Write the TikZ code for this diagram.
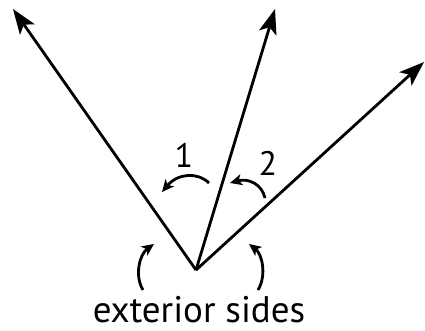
\documentclass[tikz,border=0pt]{standalone}
\usepackage{fontspec}
\setmainfont{PT Sans}
\usetikzlibrary{arrows.meta}
\begin{document}
\begin{tikzpicture}[x=1pt,y=1pt,
  ray/.style={line width=2.8pt,-{Stealth[length=25pt,width=18pt,inset=6pt]}},
  turn/.style={line width=2.8pt,-{Stealth[length=12pt,width=11pt,inset=3pt]}},
  lbl/.style={font=\fontsize{34}{34}\selectfont,inner sep=0pt},
  captext/.style={font=\fontsize{37}{37}\selectfont,inner sep=0pt}]
\useasboundingbox (0,0) rectangle (425,330);
\coordinate (V) at (196,60);
\coordinate (L) at (13,321);
\coordinate (M) at (275,321);
\coordinate (R) at (424,268);
\draw[ray] (V) -- (L);
\draw[ray] (V) -- (M);
\draw[ray] (V) -- (R);
\coordinate (a1s) at (209,147);
\coordinate (a1e) at (162,138);
\draw[turn] (a1s) .. controls (198,158) and (178,157) .. (a1e);
\coordinate (a2s) at (265,132);
\coordinate (a2e) at (230,147);
\draw[turn] (a2s) .. controls (262,146) and (248,152) .. (a2e);
\coordinate (a3s) at (143,40);
\coordinate (a3e) at (154,86);
\draw[turn] (a3s) .. controls (134,55) and (140,76) .. (a3e);
\coordinate (a4s) at (258,40);
\coordinate (a4e) at (249,86);
\draw[turn] (a4s) .. controls (267,55) and (262,76) .. (a4e);
\node[lbl] (one) at (184,175) {1};
\node[lbl] (two) at (268,167) {2};
\node[captext,anchor=base] (ext) at (199,8) {exterior sides};
\end{tikzpicture}
\end{document}
